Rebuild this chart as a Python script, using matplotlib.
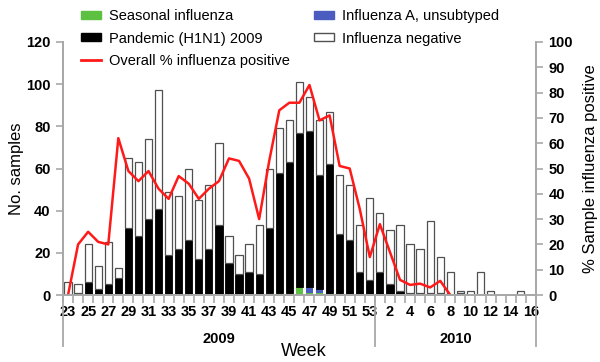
import numpy as np
import matplotlib
matplotlib.use('Agg')
import matplotlib.pyplot as plt
import matplotlib.transforms as mtransforms
from matplotlib.lines import Line2D
from matplotlib.patches import Patch

plt.rcParams['font.family'] = ['Liberation Sans', 'DejaVu Sans']

# week numbers, 2009 week 23 .. 2010 week 16
weeks = list(range(23, 54)) + list(range(1, 17))
years = ['2009', '2010']
n_2009 = 31

seasonal = [0, 0, 0, 0, 0, 0, 0, 0, 0, 0, 0, 0, 0, 0, 0, 0, 0, 0, 0, 0,
            1, 1, 1, 4, 1, 1, 0, 0, 0, 0, 0,
            0, 0, 0, 0, 0, 0, 0, 0, 0, 0, 0, 0, 0, 0, 0, 0]
unsubtyped = [0, 0, 0, 0, 0, 0, 0, 0, 0, 0, 0, 0, 0, 0, 0, 0, 0, 0, 0, 0,
              0, 0, 0, 0, 3, 2, 1, 1, 0, 0, 0,
              0, 0, 0, 0, 0, 0, 0, 0, 0, 0, 0, 0, 0, 0, 0, 0]
pandemic = [0, 1, 6, 3, 5, 8, 32, 28, 36, 41, 19, 22, 26, 17, 22, 33, 15, 10, 11, 10,
            31, 57, 62, 73, 74, 54, 61, 28, 26, 11, 7,
            11, 5, 2, 1, 1, 1, 1, 0, 1, 0, 0, 0, 0, 0, 0, 0]
negative = [6, 4, 18, 11, 20, 5, 33, 35, 38, 56, 30, 25, 34, 28, 30, 39, 13, 9, 13, 23,
            28, 21, 20, 24, 16, 26, 25, 28, 26, 22, 39,
            28, 26, 31, 23, 21, 34, 17, 11, 1, 2, 11, 2, 0, 0, 2, 0]
# overall % positive, drawn up to 2010 week 8
pct_positive = [0, 20, 25, 21, 20, 62, 49, 45, 49, 42, 38, 47, 44, 38, 42, 45, 54, 53, 46, 30,
                53, 73, 76, 76, 83, 69, 71, 51, 50, 34, 15,
                28, 17, 6, 4, 4.5, 3, 5.6, 0]

GREY = '#a8a8a8'


def plot_chart(out_file):
    x = np.arange(len(weeks))
    s = np.array(seasonal)
    u = np.array(unsubtyped)
    p = np.array(pandemic)
    ng = np.array(negative)

    fig = plt.figure(figsize=(6, 3.62), dpi=100)
    ax = fig.add_axes([0.105, 0.185, 0.788, 0.699])
    w = 0.72
    ax.bar(x, s, w, color='#5cc040', edgecolor='none', zorder=2)
    ax.bar(x, u, w, bottom=s, color='#4a5cc0', edgecolor='none', zorder=2)
    ax.bar(x, p, w, bottom=s + u, color='black', edgecolor='black', linewidth=0.6, zorder=2)
    ax.bar(x, ng, w, bottom=s + u + p, color='white', edgecolor='#505050', linewidth=0.9, zorder=2)

    ax.set_xlim(-0.5, len(weeks) - 0.5)
    ax.set_ylim(0, 120)
    ax.set_yticks(np.arange(0, 121, 20))

    ax2 = ax.twinx()
    ax2.plot(x[:len(pct_positive)], pct_positive, color='#ff1a1a', lw=1.8)
    ax2.set_ylim(0, 100)
    ax2.set_yticks(np.arange(0, 101, 10))

    for a in (ax, ax2):
        a.spines['top'].set_visible(False)
        for sp in ('left', 'right', 'bottom'):
            a.spines[sp].set_color(GREY)
            a.spines[sp].set_linewidth(1.3)
        a.tick_params(axis='y', direction='out', length=5, width=1.2, color=GREY,
                      labelsize=10.5, pad=4)
        for lab in a.get_yticklabels():
            lab.set_fontweight('bold')

    # ticks between bars, labels every other week
    ax.set_xticks(np.arange(-0.5, len(weeks), 1))
    ax.set_xticklabels([])
    ax.set_xticks(x[::2], minor=True)
    ax.set_xticklabels([str(wk) for wk in weeks[::2]], minor=True, fontweight='bold', fontsize=10.5)
    ax.tick_params(axis='x', which='major', direction='out', length=6, width=1.2, color=GREY)
    ax.tick_params(axis='x', which='minor', length=0, pad=7)

    trans = mtransforms.blended_transform_factory(ax.transData, ax.transAxes)
    for xb in (-0.5, n_2009 - 0.5, len(weeks) - 0.5):
        ax.plot([xb, xb], [0, -0.2], transform=trans, clip_on=False, color=GREY, lw=1.3)
    ax.text((n_2009 - 1) / 2.0, -0.175, years[0], transform=trans, ha='center', va='center',
            fontweight='bold', fontsize=10.5)
    ax.text((n_2009 + len(weeks) - 1) / 2.0, -0.175, years[1], transform=trans, ha='center',
            va='center', fontweight='bold', fontsize=10.5)
    ax.text(0.51, -0.222, 'Week', transform=ax.transAxes, ha='center', va='center', fontsize=13)

    ax.set_ylabel('No. samples', fontsize=12)
    ax.yaxis.set_label_coords(-0.082, 0.5)
    ax2.set_ylabel('% Sample influenza positive', fontsize=12)
    ax2.yaxis.set_label_coords(1.1, 0.5)

    handles = [Patch(facecolor='#5cc040', edgecolor='#5cc040'),
               Patch(facecolor='black', edgecolor='black'),
               Line2D([0], [0], color='#ff1a1a', lw=2),
               Patch(facecolor='#4a5cc0', edgecolor='#4a5cc0'),
               Patch(facecolor='white', edgecolor='#505050')]
    labels = ['Seasonal influenza', 'Pandemic (H1N1) 2009', 'Overall % influenza positive',
              'Influenza A, unsubtyped', 'Influenza negative']
    fig.legend(handles, labels, ncol=2, loc='upper left', bbox_to_anchor=(0.135, 0.975),
               frameon=False, fontsize=10.5, handlelength=1.4, handleheight=0.5,
               handletextpad=0.55, labelspacing=0.58, columnspacing=1.6,
               borderpad=0, borderaxespad=0)

    plt.savefig(out_file)
    plt.close()


def main():
    plot_chart('out.png')


if __name__ == '__main__':
    main()
